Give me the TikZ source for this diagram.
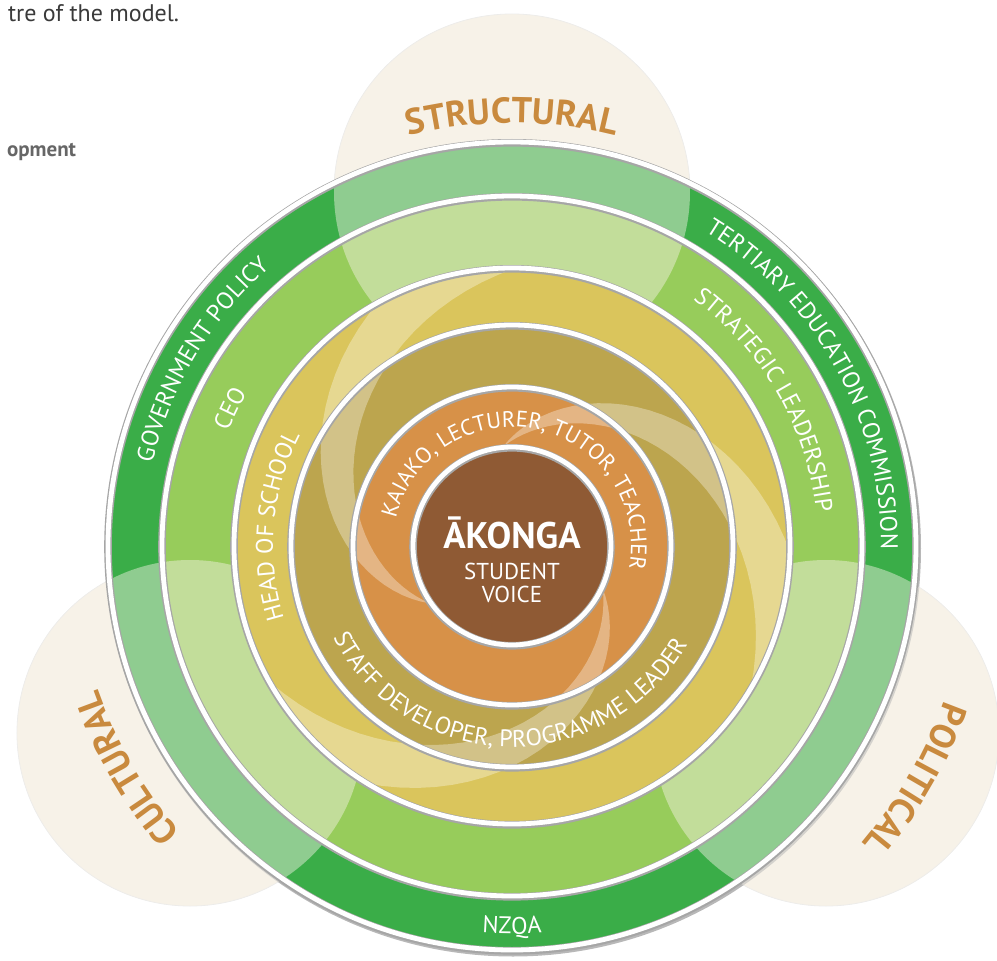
\documentclass[tikz,border=0pt]{standalone}
\usepackage{fontspec}
\setmainfont{PT Sans}
\usetikzlibrary{decorations.text}

\definecolor{akongabrown}{RGB}{143,90,52}
\definecolor{kaiakoorange}{RGB}{215,145,72}
\definecolor{staffolive}{RGB}{188,165,78}
\definecolor{schoolyellow}{RGB}{218,197,92}
\definecolor{leadgreen}{RGB}{151,204,91}
\definecolor{govgreen}{RGB}{58,173,72}
\definecolor{venncream}{RGB}{247,242,232}
\definecolor{vennorange}{RGB}{201,138,62}
\definecolor{introgray}{RGB}{58,58,58}

\tikzset{
  ringshade/.style={black!35, line width=3.8pt},
  ringedge/.style={white, line width=2.4pt},
  venn/.style={fill=venncream, draw=black!8, line width=0.4pt},
  ringlabel/.style={decorate, decoration={text along path, text align=center,
      text color=white, text={|\fontsize{12}{14}\selectfont|#1}}},
  innerlabel/.style={decorate, decoration={text along path, text align=center,
      text color=white, text={|\fontsize{11.2}{13}\selectfont|#1}}},
  vennlabel/.style={decorate, decoration={text along path, text align=center,
      text color=vennorange, text={|\fontsize{18}{21}\bfseries|#1}}},
}

\begin{document}
\begin{tikzpicture}[x=0.5pt,y=0.5pt]
\useasboundingbox (-512,-414) rectangle (485,546);

% text cut off at the page edge
\node[anchor=base west, text=introgray, font=\fontsize{12}{14}\selectfont] (intro) at (-511,524) {tre of the model.};
\node[anchor=base west, text=black!60, font=\bfseries\fontsize{10.5}{12}\selectfont] (sidenote) at (-512,389) {opment};

% venn circles, solid
\path[venn] (0,354) circle (178);       % structural
\path[venn] (-322,-187) circle (173);   % cultural
\path[venn] (314,-187) circle (173);    % political

% outer shadow + green rings
\fill[black!28] (1,-2.5) circle (408);
\fill[govgreen] (0,0) circle (404);
\fill[leadgreen] (0,0) circle (350);

% venn circles again, see-through over the green
\fill[venncream, fill opacity=0.45] (0,354) circle (178);
\fill[venncream, fill opacity=0.45] (-322,-187) circle (173);
\fill[venncream, fill opacity=0.45] (314,-187) circle (173);

% inner rings
\fill[schoolyellow] (0,0) circle (278);
\fill[staffolive] (0,0) circle (221);
\fill[kaiakoorange] (0,0) circle (159);

% swirl, three petals
\begin{scope}
  \clip (0,0) circle (278);
  \foreach \rot in {0,120,240}
    \fill[white, fill opacity=0.33, rotate=\rot]
      plot[domain=0:140, samples=40] ({95-\x}:{100+1.85*\x})
      -- plot[domain=140:0, samples=40] ({95-\x}:{100+1.1*\x+0.0025*\x*\x}) -- cycle;
\end{scope}

% centre
\fill[akongabrown] (0,0) circle (99);

% ring edges
\foreach \r in {404,350,278,221,159,99} {
  \draw[ringshade] (0,-0.8) circle (\r);
  \draw[ringedge] (0,0) circle (\r);
}

% ring labels
\path[ringlabel={GOVERNMENT POLICY}] (249:369) arc[start angle=249, end angle=49, radius=369];
\path[ringlabel={TERTIARY EDUCATION COMMISSION}] (129:369) arc[start angle=129, end angle=-71, radius=369];
\path[ringlabel=NZQA] (170:388) arc[start angle=170, end angle=370, radius=388];
\path[ringlabel=CEO] (254:306) arc[start angle=254, end angle=54, radius=306];
\path[ringlabel={STRATEGIC LEADERSHIP}] (130:306) arc[start angle=130, end angle=-70, radius=306];
\path[ringlabel={HEAD OF SCHOOL}] (275:239) arc[start angle=275, end angle=75, radius=239];
\path[ringlabel={STAFF DEVELOPER, PROGRAMME LEADER}] (169:201) arc[start angle=169, end angle=369, radius=201];
\path[innerlabel={KAIAKO, LECTURER, TUTOR, TEACHER}] (228:119) arc[start angle=228, end angle=-72, radius=119];

% venn labels
\path[vennlabel=STRUCTURAL] (190:423) arc[start angle=190, end angle=-10, radius=423];
\path[vennlabel=CULTURAL] (300:438) arc[start angle=300, end angle=120, radius=438];
\path[vennlabel=POLITICAL] (60:459) arc[start angle=60, end angle=-120, radius=459];

% centre text
\node[text=white, font=\bfseries\fontsize{18.5}{22}\selectfont] (akonga) at (0,13) {ĀKONGA};
\node[text=white, font=\fontsize{11.5}{11.5}\selectfont, align=center] (voice) at (0,-37) {STUDENT\\VOICE};

\end{tikzpicture}
\end{document}
